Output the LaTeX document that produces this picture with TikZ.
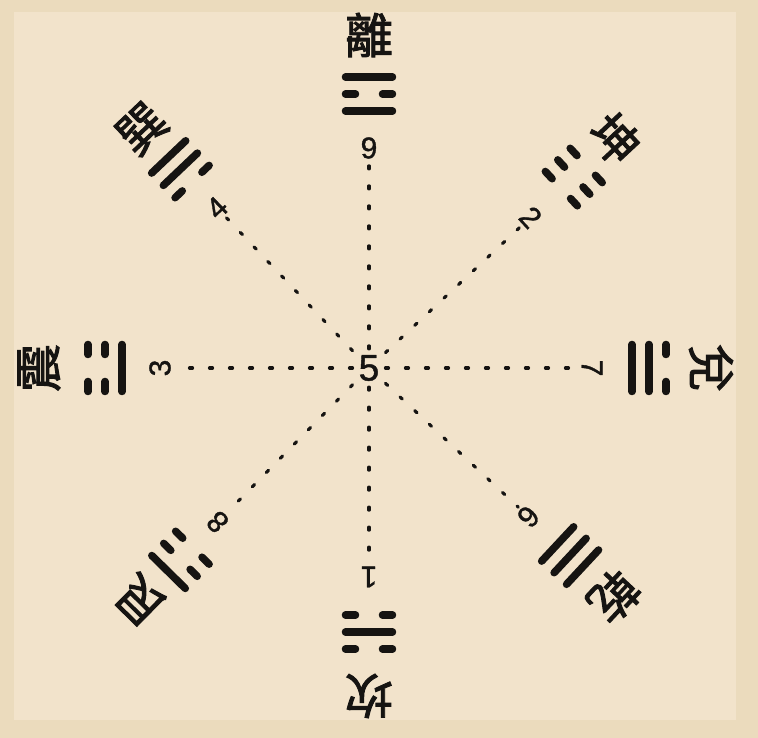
\documentclass[tikz,border=0pt]{standalone}
\usepackage{fontspec}
\setmainfont[FakeBold=1.2]{Liberation Sans}
\newfontfamily\cjk[FakeBold=2]{Noto Sans CJK TC}
\definecolor{outerbg}{RGB}{235,219,189}
\definecolor{innerbg}{RGB}{242,227,203}
\definecolor{ink}{RGB}{22,20,18}
\tikzset{
  num/.style={font=\fontsize{30}{30}\selectfont, text=ink, inner sep=3pt},
  centernum/.style={font=\fontsize{37}{37}\selectfont, text=ink, inner sep=6pt},
  gua/.style={font=\fontsize{48}{48}\cjk, text=ink, inner sep=0pt},
  yaoline/.style={draw=ink, line width=7.5pt, line cap=round},
  dotline/.style={draw=ink, line width=3.2pt, line cap=round, dash pattern=on 3pt off 17pt}
}
\newcommand\yao[2]{%
  \ifnum#2=1
    \draw[yaoline] (-23.5,#1) -- (23.5,#1);
  \else
    \draw[yaoline] (-23.5,#1) -- (-13.5,#1) (13.5,#1) -- (23.5,#1);
  \fi}
% #1 angle, #2 number radius, #3 trigram radius, #4 name radius, #5 number, #6 name, #7-#9 lines bottom..top
\newcommand\spoke[9]{%
  \begin{scope}[rotate=#1-90, transform shape]
    \node[num] (n#5) at (0,#2) {#5};
    \node[gua] (g#5) at (0,#4) {#6};
    \yao{#3-17}{#7}
    \yao{#3}{#8}
    \yao{#3+17}{#9}
  \end{scope}
  \draw[dotline] (c5) -- (n#5);
}
\begin{document}
\begin{tikzpicture}[x=1pt,y=1pt]
\fill[outerbg] (-369,-370) rectangle (389,368);
\fill[innerbg] (-355,-352) rectangle (367,356);
\useasboundingbox (-369,-370) rectangle (389,368);
\node[centernum] (c5) at (0,0) {5};
\spoke{90}{220}{274}{333}{9}{離}{1}{0}{1}
\spoke{43}{221}{280}{336}{2}{坤}{0}{0}{0}
\spoke{0}{223}{280}{342}{7}{兌}{1}{1}{0}
\spoke{-43}{218}{275}{335}{6}{乾}{1}{1}{1}
\spoke{-90}{209}{264}{328}{1}{坎}{0}{1}{0}
\spoke{-134.5}{216}{269}{326}{8}{艮}{0}{0}{1}
\spoke{180}{209}{264}{330}{3}{震}{1}{0}{0}
\spoke{133.5}{221}{274}{330}{4}{巽}{0}{1}{1}
\end{tikzpicture}
\end{document}
